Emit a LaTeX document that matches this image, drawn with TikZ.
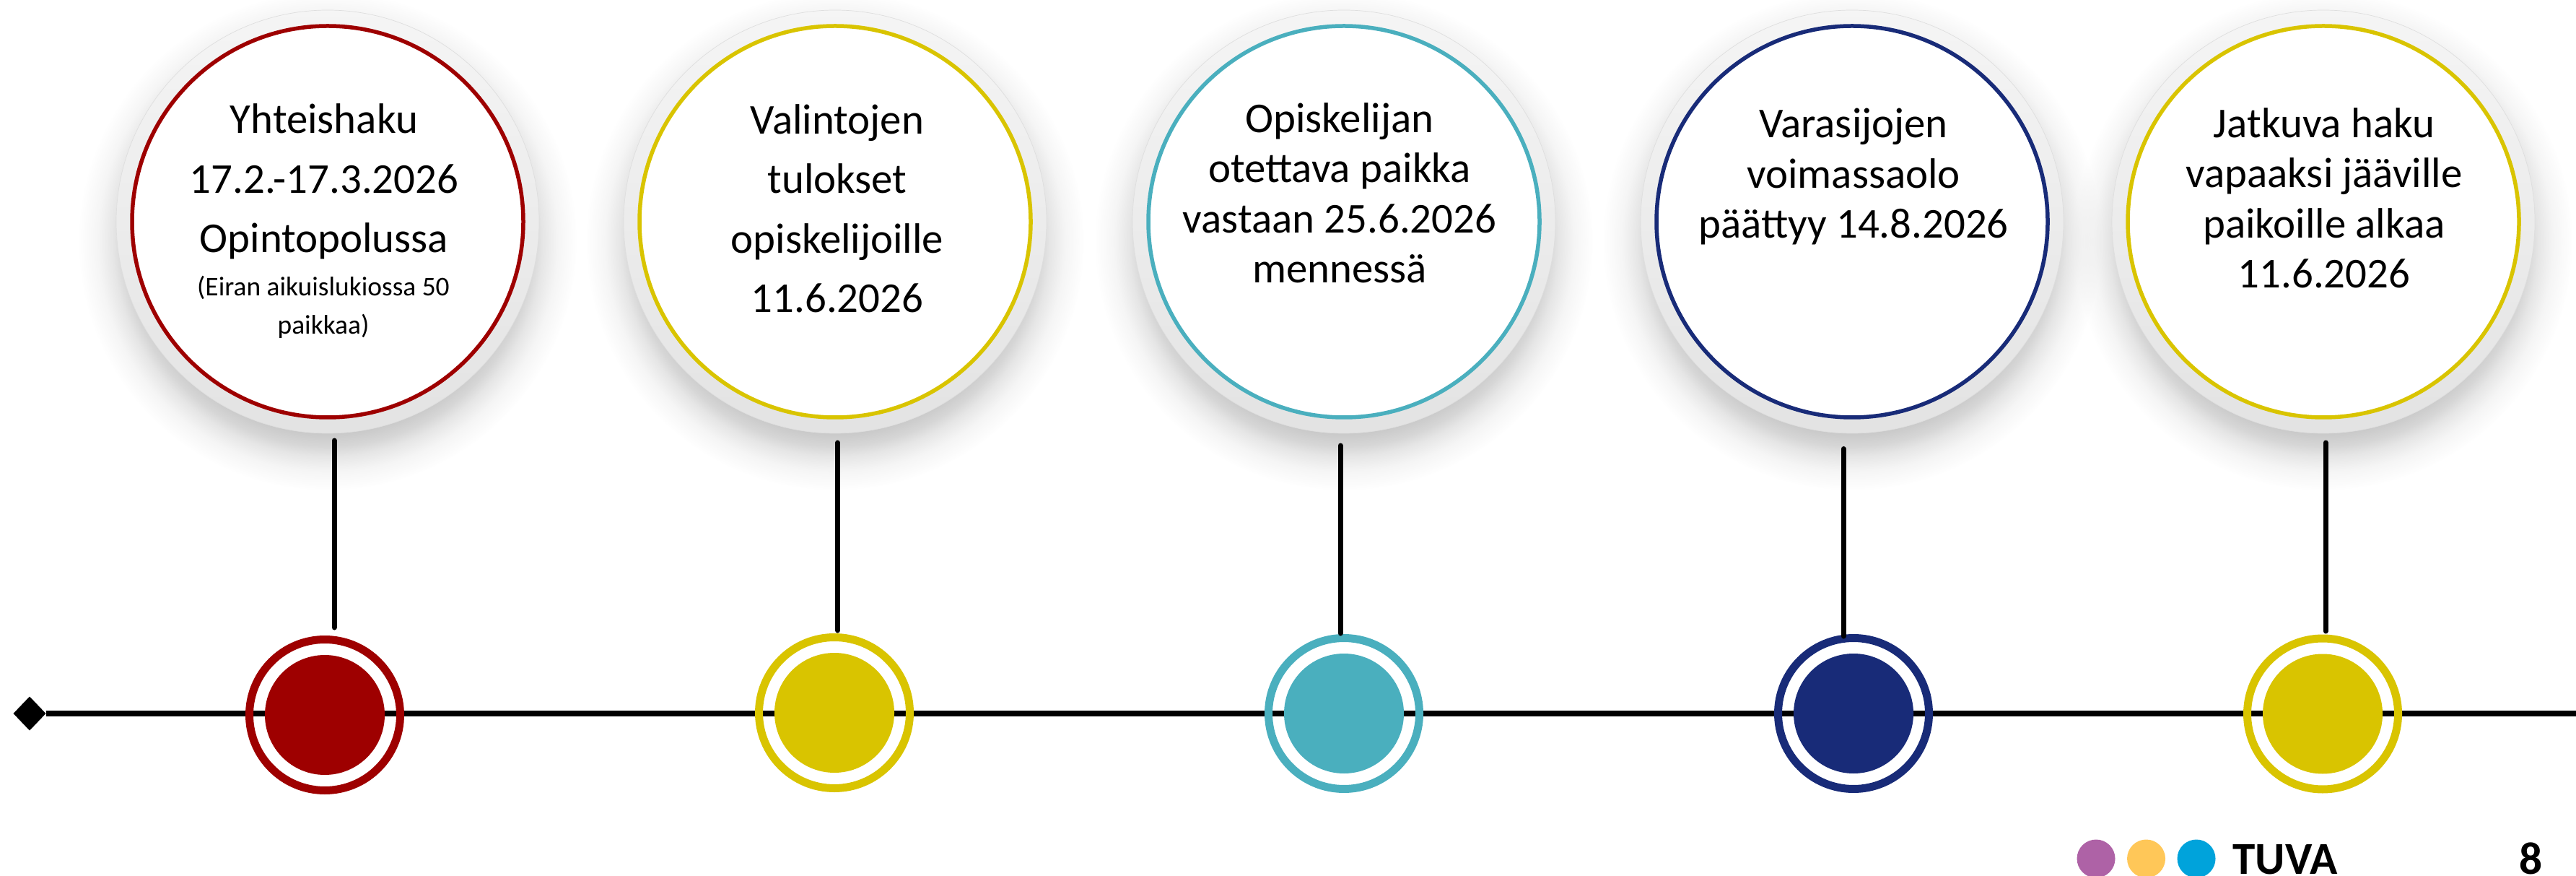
\documentclass[tikz,border=0pt]{standalone}
\usepackage{fontspec}
\setmainfont{Carlito}
\usetikzlibrary{fadings,positioning,shapes.geometric}
\definecolor{tuvared}{RGB}{158,0,0}
\definecolor{tuvayellow}{RGB}{217,196,0}
\definecolor{tuvateal}{RGB}{74,175,190}
\definecolor{tuvanavy}{RGB}{24,43,120}
\definecolor{logopurple}{RGB}{174,98,166}
\definecolor{logoyellow}{RGB}{255,199,88}
\definecolor{logoblue}{RGB}{0,163,219}
% soft edge for the shadow under each bubble
\pgfdeclareradialshading{shadowfuzz}{\pgfpointorigin}{color(0bp)=(white); color(19bp)=(white); color(20.5bp)=(black!27); color(21.5bp)=(black!55); color(23bp)=(black!82); color(25bp)=(black); color(50bp)=(black)}
\pgfdeclarefading{shadowfade}{\pgfuseshading{shadowfuzz}}
\tikzset{%
	haloshadow/.style = {circle, fill=black!22, minimum size=6.9cm, inner sep=0, outer sep=0, path fading=shadowfade},
	halo/.style       = {circle, draw=black!13, line width=0.2pt, top color=black!4, bottom color=black!11, minimum size=5.86cm, inner sep=0, outer sep=0},
	bubble/.style     = {circle, fill=white, line width=0.055cm, minimum size=5.42cm, inner sep=0, outer sep=0},
	bubbletext/.style = {anchor=base, align=center, inner sep=0, font=\fontsize{16.75}{23.5}\selectfont},
	tighttext/.style  = {bubbletext, font=\fontsize{16.75}{19.8}\selectfont},
	smalltext/.style  = {bubbletext, font=\fontsize{10.65}{15.1}\selectfont},
	ring/.style       = {circle, draw, line width=0.11cm, minimum size=2.09cm, inner sep=0, outer sep=0},
	dot/.style        = {circle, minimum size=1.66cm, inner sep=0, outer sep=0},
	waypoint/.style   = {coordinate},
	stem/.style       = {line width=0.07cm, line cap=round},
	axis/.style       = {line width=0.08cm},
	logodot/.style    = {circle, minimum size=0.53cm, inner sep=0, outer sep=0},
	logotext/.style   = {anchor=base, inner sep=0, font=\fontsize{18}{20}\selectfont\bfseries},
}
\begin{document}
\begin{tikzpicture}[node distance=7.05cm]
	\useasboundingbox (0,0) rectangle (35.69,12.12);
	% shadows
	\node [haloshadow] (hakuv) at (4.54,8.78) {};
	\node [haloshadow] (tulosv) at (11.57,8.78) {};
	\node [haloshadow] (paikkav) at (18.62,8.78) {};
	\node [haloshadow] (varav) at (25.66,8.78) {};
	\node [haloshadow] (jatkuvav) at (32.19,8.78) {};
	% bubbles
	\node [halo] (hakuh) [above of=hakuv,node distance=0.27cm] {};
	\node [halo] (tulosh) [above of=tulosv,node distance=0.27cm] {};
	\node [halo] (paikkah) [above of=paikkav,node distance=0.27cm] {};
	\node [halo] (varah) [above of=varav,node distance=0.27cm] {};
	\node [halo] (jatkuvah) [above of=jatkuvav,node distance=0.27cm] {};
	\node [bubble,draw=tuvared] (haku) at (hakuh) {};
	\node [bubble,draw=tuvayellow] (tulos) at (tulosh) {};
	\node [bubble,draw=tuvateal] (paikka) at (paikkah) {};
	\node [bubble,draw=tuvanavy] (vara) at (varah) {};
	\node [bubble,draw=tuvayellow] (jatkuva) at (jatkuvah) {};
	% texts
	\node [bubbletext] (hakut) at (4.49,8.62) {Yhteishaku\\17.2.-17.3.2026\\Opintopolussa};
	\node [smalltext] (hakup) at (4.48,7.49) {(Eiran aikuislukiossa 50\\paikkaa)};
	\node [bubbletext] (tulost) at (11.60,7.79) {Valintojen\\tulokset\\opiskelijoille\\11.6.2026};
	\node [tighttext] (paikkat) at (18.56,8.20) {Opiskelijan\\otettava paikka\\vastaan 25.6.2026\\mennessä};
	\node [tighttext] (varat) at (25.68,8.82) {Varasijojen\\voimassaolo\\päättyy 14.8.2026};
	\node [tighttext] (jatkuvat) at (32.20,8.13) {Jatkuva haku\\vapaaksi jääville\\paikoille alkaa\\11.6.2026};
	% timeline
	\node [diamond,fill=black,aspect=0.95,minimum width=0.45cm,minimum height=0.47cm,inner sep=0,outer sep=0] (alku) at (0.41,2.24) {};
	\node [waypoint] (loppu) at (35.69,2.24) {};
	\draw[axis] (alku) -- (loppu);
	\node [ring,draw=tuvared] (hakur) at (4.50,2.22) {};
	\node [ring,draw=tuvayellow] (tulosr) at (11.56,2.25) {};
	\node [ring,draw=tuvateal] (paikkar) at (18.62,2.24) {};
	\node [ring,draw=tuvanavy] (varar) at (25.68,2.24) {};
	\node [ring,draw=tuvayellow] (jatkuvar) at (32.18,2.235) {};
	\node [dot,fill=tuvared] (hakud) at (hakur) {};
	\node [dot,fill=tuvayellow] (tulosd) at (tulosr) {};
	\node [dot,fill=tuvateal] (paikkad) at (paikkar) {};
	\node [dot,fill=tuvanavy] (varad) at (varar) {};
	\node [dot,fill=tuvayellow] (jatkuvad) at (jatkuvar) {};
	% stems
	\node [waypoint] (hakua) at (4.63,6.02) {};
	\node [waypoint] (hakub) at (4.63,3.43) {};
	\node [waypoint] (tulosa) at (11.605,5.99) {};
	\node [waypoint] (tulosb) at (11.605,3.39) {};
	\node [waypoint] (paikkaa) at (18.57,5.95) {};
	\node [waypoint] (paikkab) at (18.57,3.35) {};
	\node [waypoint] (varaa) at (25.54,5.905) {};
	\node [waypoint] (varab) at (25.54,3.31) {};
	\node [waypoint] (jatkuvaa) at (32.22,5.99) {};
	\node [waypoint] (jatkuvab) at (32.22,3.38) {};
	\draw[stem] (hakua) -- (hakub);
	\draw[stem] (tulosa) -- (tulosb);
	\draw[stem] (paikkaa) -- (paikkab);
	\draw[stem] (varaa) -- (varab);
	\draw[stem] (jatkuvaa) -- (jatkuvab);
	% logo
	\node [logodot,fill=logopurple] (logoa) at (29.04,0.23) {};
	\node [logodot,fill=logoyellow] (logob) [right of=logoa,node distance=0.695cm] {};
	\node [logodot,fill=logoblue] (logoc) [right of=logob,node distance=0.695cm] {};
	\node [logotext] (tuva) at (31.66,0.02) {TUVA};
	\node [logotext] (sivu) at (35.06,0.02) {8};
\end{tikzpicture}
\end{document}
